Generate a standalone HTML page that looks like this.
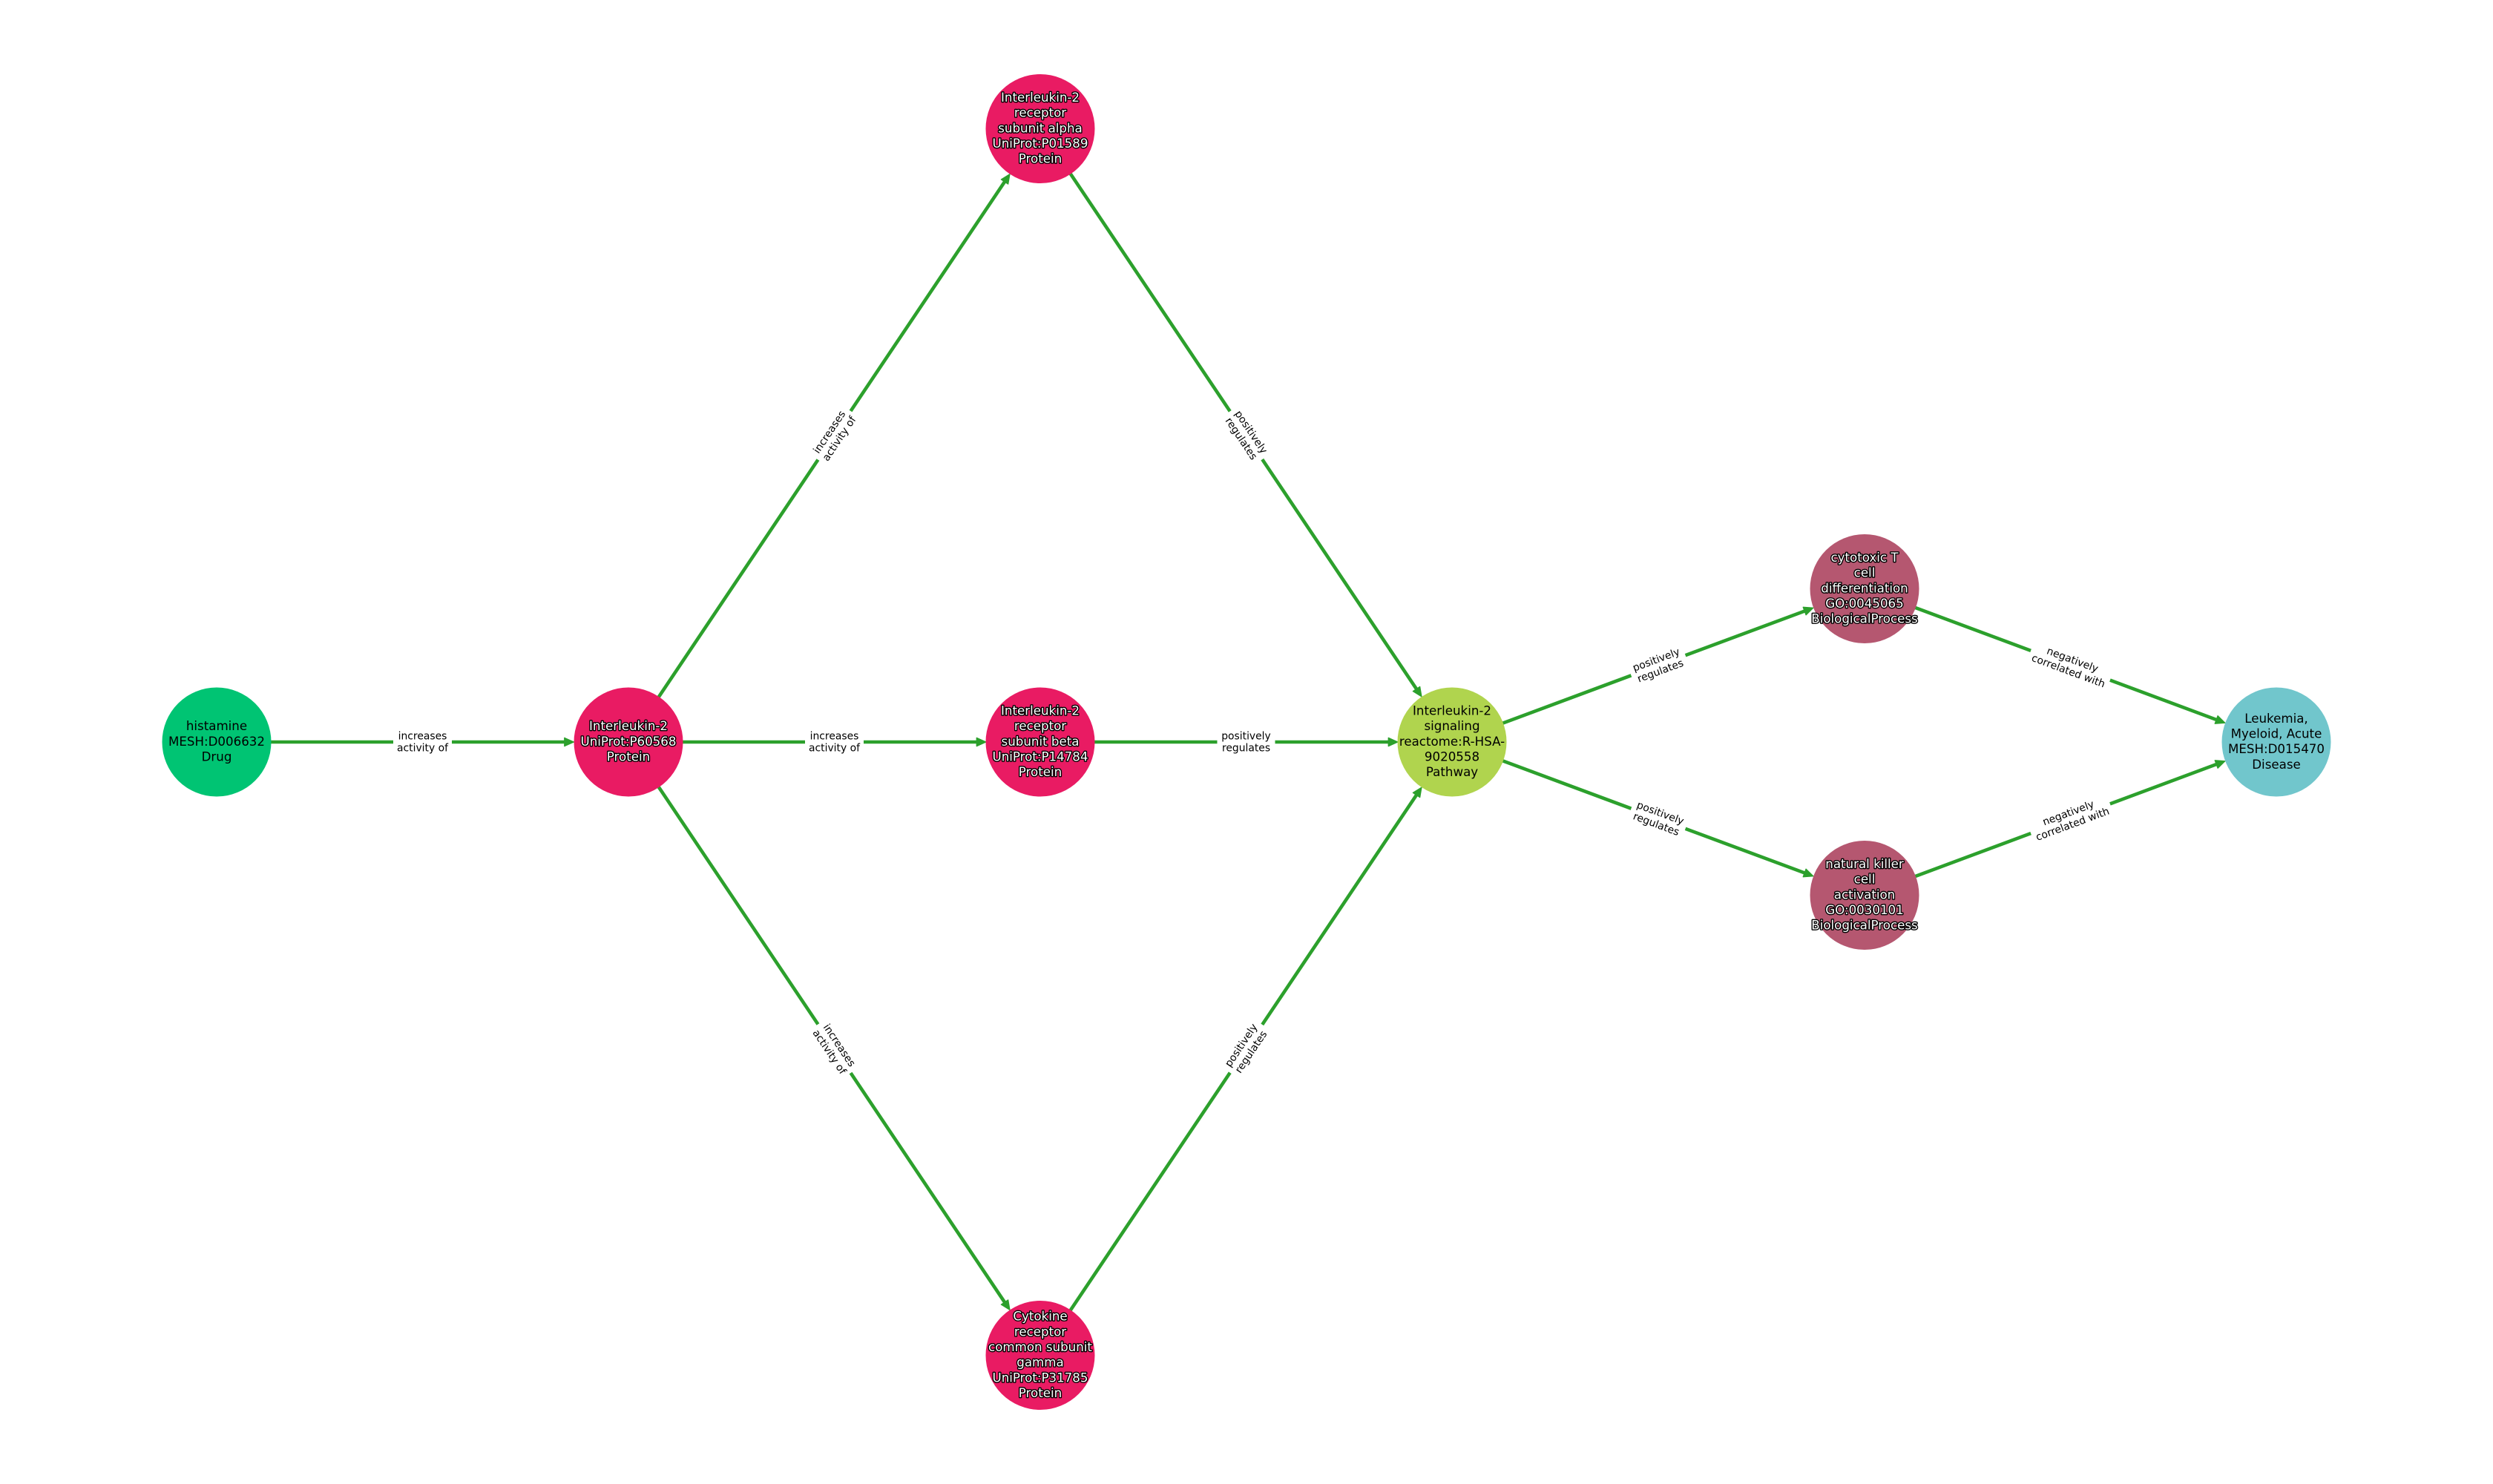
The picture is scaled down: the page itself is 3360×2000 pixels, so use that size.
<!DOCTYPE html>
<html><head><meta charset="utf-8"><style>
html,body{margin:0;padding:0;background:#fff;width:3360px;height:2000px;overflow:hidden}
svg{display:block;font-family:"DejaVu Sans",sans-serif}
.n{font-size:16.67px;text-anchor:middle;fill:#000}
.w{fill:#fff;stroke:#000;stroke-width:2.8px;paint-order:stroke;stroke-linejoin:round}
.e{font-size:13.89px;text-anchor:middle;fill:#000}
line{stroke:#2ca02c;stroke-width:4.6px;marker-end:url(#a)}
</style></head><body>
<svg width="3360" height="2000" viewBox="0 0 3360 2000" xmlns="http://www.w3.org/2000/svg">
<defs><marker id="a" markerUnits="userSpaceOnUse" markerWidth="20" markerHeight="20" viewBox="-2 -8 16 16" refX="5" refY="0" orient="auto"><path d="M0,-4.5 L10,0 L0,4.5 Z" fill="#2ca02c" stroke="#2ca02c" stroke-width="1" stroke-linejoin="round"/></marker></defs>
<rect width="3360" height="2000" fill="#fff"/>
<line x1="292" y1="1000" x2="767" y2="1000"/>
<line x1="847" y1="1000" x2="1322.5" y2="1000"/>
<line x1="1402" y1="1000" x2="1877.5" y2="1000"/>
<line x1="847" y1="1000" x2="1357.5" y2="239.8"/>
<line x1="847" y1="1000" x2="1357.5" y2="1760.2"/>
<line x1="1402" y1="173.5" x2="1912.5" y2="933.7"/>
<line x1="1402" y1="1826.5" x2="1912.5" y2="1066.3"/>
<line x1="1957" y1="1000" x2="2438" y2="821.4"/>
<line x1="1957" y1="1000" x2="2438" y2="1178.6"/>
<line x1="2513" y1="793.5" x2="2993" y2="972.1"/>
<line x1="2513" y1="1206.5" x2="2993" y2="1027.9"/>

<circle cx="292" cy="1000" r="73.5" fill="#00c473"/>
<circle cx="847" cy="1000" r="73.5" fill="#e91b63"/>
<circle cx="1402" cy="173.5" r="73.5" fill="#e91b63"/>
<circle cx="1402" cy="1000" r="73.5" fill="#e91b63"/>
<circle cx="1402" cy="1826.5" r="73.5" fill="#e91b63"/>
<circle cx="1957" cy="1000" r="73.5" fill="#b0d44e"/>
<circle cx="2513" cy="793.5" r="73.5" fill="#b55770"/>
<circle cx="2513" cy="1206.5" r="73.5" fill="#b55770"/>
<circle cx="3068" cy="1000" r="73.5" fill="#71c6cc"/>

<text class="n" x="292"><tspan x="292" y="984.1">histamine</tspan><tspan x="292" y="1004.8">MESH:D006632</tspan><tspan x="292" y="1025.5">Drug</tspan></text>
<text class="n w" x="847"><tspan x="847" y="984.1">Interleukin-2</tspan><tspan x="847" y="1004.8">UniProt:P60568</tspan><tspan x="847" y="1025.5">Protein</tspan></text>
<text class="n w" x="1402"><tspan x="1402" y="136.9">Interleukin-2</tspan><tspan x="1402" y="157.6">receptor</tspan><tspan x="1402" y="178.3">subunit alpha</tspan><tspan x="1402" y="199">UniProt:P01589</tspan><tspan x="1402" y="219.7">Protein</tspan></text>
<text class="n w" x="1402"><tspan x="1402" y="963.4">Interleukin-2</tspan><tspan x="1402" y="984.1">receptor</tspan><tspan x="1402" y="1004.8">subunit beta</tspan><tspan x="1402" y="1025.5">UniProt:P14784</tspan><tspan x="1402" y="1046.2">Protein</tspan></text>
<text class="n w" x="1402"><tspan x="1402" y="1779.6">Cytokine</tspan><tspan x="1402" y="1800.3">receptor</tspan><tspan x="1402" y="1821">common subunit</tspan><tspan x="1402" y="1841.7">gamma</tspan><tspan x="1402" y="1862.4">UniProt:P31785</tspan><tspan x="1402" y="1883.1">Protein</tspan></text>
<text class="n" x="1957"><tspan x="1957" y="963.4">Interleukin-2</tspan><tspan x="1957" y="984.1">signaling</tspan><tspan x="1957" y="1004.8">reactome:R-HSA-</tspan><tspan x="1957" y="1025.5">9020558</tspan><tspan x="1957" y="1046.2">Pathway</tspan></text>
<text class="n w" x="2513"><tspan x="2513" y="756.9">cytotoxic T</tspan><tspan x="2513" y="777.6">cell</tspan><tspan x="2513" y="798.3">differentiation</tspan><tspan x="2513" y="819">GO:0045065</tspan><tspan x="2513" y="839.7">BiologicalProcess</tspan></text>
<text class="n w" x="2513"><tspan x="2513" y="1169.9">natural killer</tspan><tspan x="2513" y="1190.6">cell</tspan><tspan x="2513" y="1211.3">activation</tspan><tspan x="2513" y="1232">GO:0030101</tspan><tspan x="2513" y="1252.7">BiologicalProcess</tspan></text>
<text class="n" x="3068"><tspan x="3068" y="973.8">Leukemia,</tspan><tspan x="3068" y="994.5">Myeloid, Acute</tspan><tspan x="3068" y="1015.2">MESH:D015470</tspan><tspan x="3068" y="1035.9">Disease</tspan></text>

<g transform="translate(569.5,1000)"><rect x="-39.5" y="-21" width="79" height="42" fill="#fff"/><text class="e"><tspan x="0" y="-3.5">increases</tspan><tspan x="0" y="12.5">activity of</tspan></text></g>
<g transform="translate(1124.5,1000)"><rect x="-39.5" y="-21" width="79" height="42" fill="#fff"/><text class="e"><tspan x="0" y="-3.5">increases</tspan><tspan x="0" y="12.5">activity of</tspan></text></g>
<g transform="translate(1679.5,1000)"><rect x="-39" y="-21" width="78" height="42" fill="#fff"/><text class="e"><tspan x="0" y="-3.5">positively</tspan><tspan x="0" y="12.5">regulates</tspan></text></g>
<g transform="translate(1124.5,586.75) rotate(-56.1)"><rect x="-39.5" y="-21" width="79" height="42" fill="#fff"/><text class="e"><tspan x="0" y="-3.5">increases</tspan><tspan x="0" y="12.5">activity of</tspan></text></g>
<g transform="translate(1124.5,1413.25) rotate(56.1)"><rect x="-39.5" y="-21" width="79" height="42" fill="#fff"/><text class="e"><tspan x="0" y="-3.5">increases</tspan><tspan x="0" y="12.5">activity of</tspan></text></g>
<g transform="translate(1679.5,586.75) rotate(56.1)"><rect x="-39" y="-21" width="78" height="42" fill="#fff"/><text class="e"><tspan x="0" y="-3.5">positively</tspan><tspan x="0" y="12.5">regulates</tspan></text></g>
<g transform="translate(1679.5,1413.25) rotate(-56.1)"><rect x="-39" y="-21" width="78" height="42" fill="#fff"/><text class="e"><tspan x="0" y="-3.5">positively</tspan><tspan x="0" y="12.5">regulates</tspan></text></g>
<g transform="translate(2235,896.75) rotate(-20.4)"><rect x="-39" y="-21" width="78" height="42" fill="#fff"/><text class="e"><tspan x="0" y="-3.5">positively</tspan><tspan x="0" y="12.5">regulates</tspan></text></g>
<g transform="translate(2235,1103.25) rotate(20.4)"><rect x="-39" y="-21" width="78" height="42" fill="#fff"/><text class="e"><tspan x="0" y="-3.5">positively</tspan><tspan x="0" y="12.5">regulates</tspan></text></g>
<g transform="translate(2790.5,896.75) rotate(20.4)"><rect x="-57" y="-21" width="114" height="42" fill="#fff"/><text class="e"><tspan x="0" y="-3.5">negatively</tspan><tspan x="0" y="12.5">correlated with</tspan></text></g>
<g transform="translate(2790.5,1103.25) rotate(-20.4)"><rect x="-57" y="-21" width="114" height="42" fill="#fff"/><text class="e"><tspan x="0" y="-3.5">negatively</tspan><tspan x="0" y="12.5">correlated with</tspan></text></g>
</svg>
</body></html>
